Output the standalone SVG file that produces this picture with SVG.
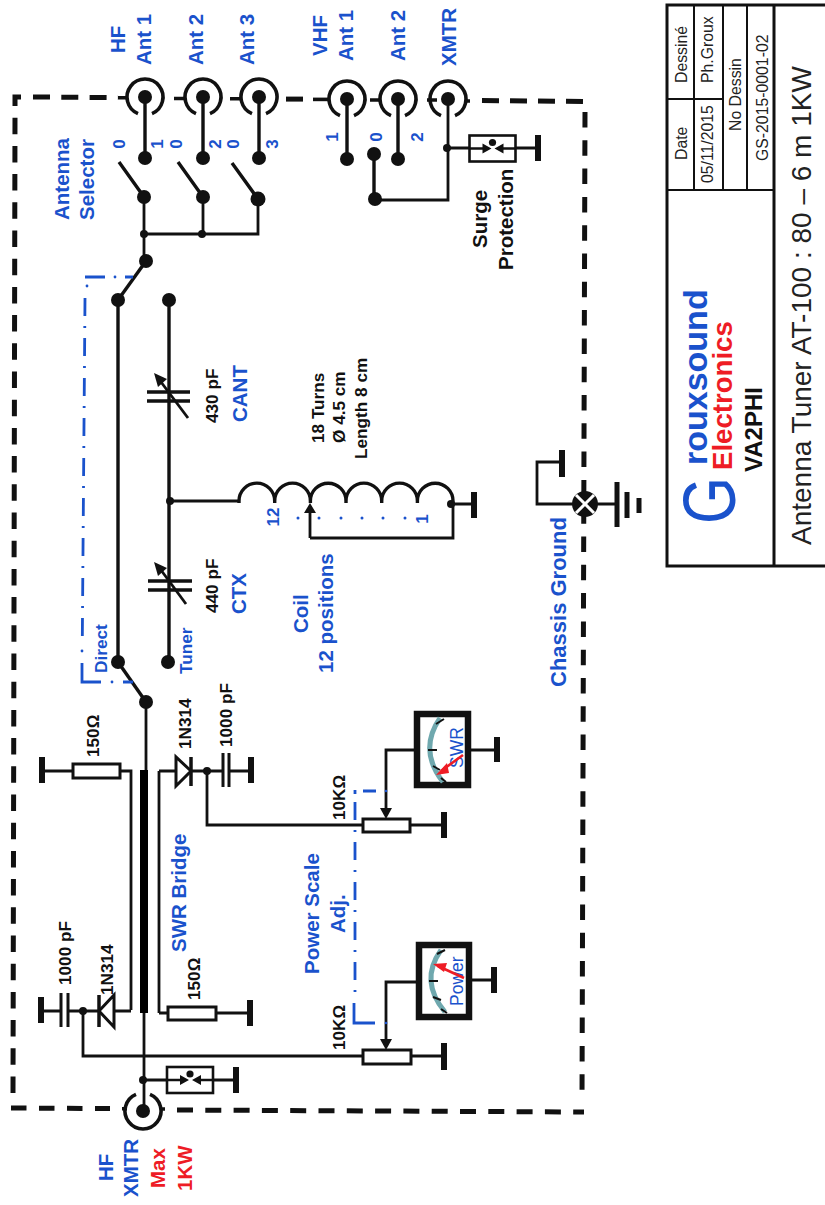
<svg xmlns="http://www.w3.org/2000/svg" width="825" height="1205" viewBox="0 0 825 1205">
<style>
text{font-family:"Liberation Sans",Arial,sans-serif}
.b{font-weight:700}
.bl{fill:#1a52cc}
.rd{fill:#ee1c25}
.k{fill:#111}
.f20{font-size:20.5px}
.f17{font-size:17.2px}
.w{fill:none;stroke:#111;stroke-width:2.8}
.t{fill:none;stroke:#111;stroke-width:3.4}
.g{fill:none;stroke:#111;stroke-width:6}
.d{fill:#111}
.r{fill:#fff;stroke:#111;stroke-width:3}
.box{fill:none;stroke:#111;stroke-width:5}
.stub{fill:none;stroke:#111;stroke-width:3.6}
.ctl{fill:none;stroke:#1a52cc;stroke-width:2.8}
.cell{fill:none;stroke:#111;stroke-width:2}
.cellh{fill:none;stroke:#111;stroke-width:3}
</style>
<defs>
<path id="conn" d="M-7 16.6A18 18 0 1 1 7 16.6" fill="none" stroke="#111" stroke-width="3.6"/>
<g id="surge">
<rect x="-23" y="-13" width="46" height="26" fill="#fff" stroke="#111" stroke-width="2.6"/>
<path d="M-23 0H-6M23 0H6" stroke="#111" stroke-width="2.6"/>
<path d="M-1 0L-10-5V5ZM2 0L11-5V5Z" fill="#111"/>
<circle cx="0" cy="-6" r="3.6" fill="#111"/>
</g>
</defs>

<g id="chassis-box">
<path class="box" d="M13 1093L15 115" stroke-dasharray="16.5 11.7"/>
<path class="box" d="M21 97H15V106"/>
<path class="box" d="M33 97L118 97.6" stroke-dasharray="17 11.3"/>
<path class="stub" d="M118 97.700H127M174 98.500H186M230 98.800H241M370 100H380M427 100H437M465 101H470"/>
<path class="box" d="M286 99.100H303"/><path class="stub" d="M313 99.400H328"/>
<path class="box" d="M482 100.500L585 101.500" stroke-dasharray="17 11"/>
<path class="box" d="M585 112L582 1100" stroke-dasharray="15.500 12.800"/>
<path class="box" d="M11 1108L110 1108.600" stroke-dasharray="15.500 12.500"/>
<path class="stub" d="M122 1108.700H127M161 1109H165"/>
<path class="box" d="M177 1110L584 1112" stroke-dasharray="16 12.300"/>
</g>

<g id="connectors">
<path class="t" d="M145 97V158M203 97V158M259 97V158"/>
<path class="t" d="M347 97V159M398 97V159"/>
<path class="t" d="M144 197L119 162M203 197L178 162M258 199L232 163"/>
<path class="w" d="M144 197V260M203 197V234M258 199V234H144"/>
<path class="t" d="M146 261L118 300"/>
<path class="t" d="M118 300V662M169 300V662"/>
<path class="t" d="M118 662L146 702"/>
<path class="w" d="M146 702V770"/>
<path d="M144 770V1013" fill="none" stroke="#000" stroke-width="8"/>
<path class="w" d="M144 1013V1111"/>
<path class="t" d="M374 154V199" stroke-width="4.5"/>
<path class="w" d="M375 200H448V99"/>
<path class="w" d="M170 501H239"/>
<path class="w" d="M310 538V510M310 538H453V504M453 504H474"/>
<path class="w" d="M562 462H537V504H585M585 504H617"/>
<path class="w" d="M42 771H131V1010M159 771V1013M159 771H176M192 771H223M229 771H251"/>
<path class="w" d="M207 771V825H363M410 825H444"/>
<path class="w" d="M386 810V750H414M471 750H497"/>
<path class="w" d="M41 1011H61M68 1011H99M114 1011H131"/>
<path class="w" d="M83 1011V1056H363M411 1056H444"/>
<path class="w" d="M159 1013H168M216 1013H250"/>
<path class="w" d="M386 1040V982H416M472 980H494"/>
<path class="w" d="M144 1080H236M448 148H538"/>
<circle class="d" cx="144" cy="234" r="4"/><circle class="d" cx="202" cy="234" r="4"/>
<circle class="d" cx="170" cy="501" r="4"/><circle class="d" cx="451" cy="504" r="4"/>
<circle class="d" cx="207" cy="771" r="4"/><circle class="d" cx="83" cy="1011" r="4"/>
<circle class="d" cx="143" cy="1080" r="4"/><circle class="d" cx="447" cy="148" r="4"/>
<g class="d">
<circle cx="145" cy="158" r="7"/><circle cx="203" cy="158" r="7"/><circle cx="259" cy="158" r="7"/>
<circle cx="144" cy="197" r="7"/><circle cx="203" cy="197" r="7"/><circle cx="258" cy="199" r="7.500"/>
<circle cx="146" cy="261" r="7"/><circle cx="118" cy="300" r="7"/><circle cx="169" cy="300" r="7"/>
<circle cx="118" cy="662" r="7"/><circle cx="168" cy="662" r="7"/><circle cx="146" cy="702" r="7"/>
<circle cx="347" cy="159" r="7"/><circle cx="398" cy="159" r="7"/><circle cx="374" cy="154" r="7"/><circle cx="375" cy="199" r="7"/>
</g>
<g id="linkage" fill="#1a52cc">
<path class="ctl" d="M85 298L82.300 640" stroke-dasharray="18 10 2 10"/>
<path class="ctl" d="M85 277H105M125 277H133M82 663V682H101M123 682H133"/>
<circle cx="115" cy="277" r="1.400"/><circle cx="87" cy="286" r="1.400"/>
<circle cx="82" cy="651" r="1.400"/><circle cx="112" cy="682" r="1.400"/>
<path class="ctl" d="M355 802V992" stroke-dasharray="18 10 2 10"/>
<path class="ctl" d="M355 790V794M363 791H376"/>
<path class="ctl" d="M354 1003V1023H375"/>
<circle cx="386" cy="791" r="1.300"/><circle cx="386" cy="1023" r="1.300"/>
</g>
</g>

<g id="ant-hf1"><use href="#conn" x="145" y="97"/><circle class="d" cx="145" cy="97" r="7"/>
<text class="b bl f20" transform="translate(125 53) rotate(-90)">HF</text>
<text class="b bl f20" transform="translate(151 65) rotate(-90)">Ant 1</text></g>
<g id="ant-hf2"><use href="#conn" x="203" y="97"/><circle class="d" cx="203" cy="97" r="7"/>
<text class="b bl f20" transform="translate(203 65) rotate(-90)">Ant 2</text></g>
<g id="ant-hf3"><use href="#conn" x="259" y="97"/><circle class="d" cx="259" cy="97" r="7"/>
<text class="b bl f20" transform="translate(254 65) rotate(-90)">Ant 3</text></g>
<g id="ant-vhf1"><use href="#conn" x="347" y="99"/><circle class="d" cx="347" cy="99" r="7"/>
<text class="b bl f20" transform="translate(327 56) rotate(-90)">VHF</text>
<text class="b bl f20" transform="translate(353 61) rotate(-90)">Ant 1</text></g>
<g id="ant-vhf2"><use href="#conn" x="398" y="99"/><circle class="d" cx="398" cy="99" r="7"/>
<text class="b bl f20" transform="translate(405 61) rotate(-90)">Ant 2</text></g>
<g id="xmtr-vhf"><use href="#conn" x="448" y="99"/><circle class="d" cx="448" cy="99" r="7"/>
<text class="b bl f20" transform="translate(456 66) rotate(-90)">XMTR</text></g>
<g id="xmtr-hf"><use href="#conn" transform="translate(143 1111) rotate(180)"/><circle class="d" cx="143" cy="1111" r="7"/>
<text class="b bl f20" transform="translate(113 1181) rotate(-90)">HF</text>
<text class="b bl f20" transform="translate(138 1197) rotate(-90)">XMTR</text>
<text class="b rd f20" transform="translate(165 1188) rotate(-90)">Max</text>
<text class="b rd f20" transform="translate(192 1191) rotate(-90)">1KW</text></g>

<g id="antenna-selector">
<text class="b bl f20" transform="translate(69 220) rotate(-90)">Antenna</text>
<text class="b bl f20" transform="translate(94 220) rotate(-90)">Selector</text>
<g class="b bl" font-size="17" text-anchor="middle">
<text transform="translate(125 144) rotate(-90)">0</text>
<text transform="translate(163 144) rotate(-90)">1</text>
<text transform="translate(182 144) rotate(-90)">0</text>
<text transform="translate(221 144) rotate(-90)">2</text>
<text transform="translate(239 144) rotate(-90)">0</text>
<text transform="translate(278 144) rotate(-90)">3</text>
<text transform="translate(338 137) rotate(-90)">1</text>
<text transform="translate(382 137) rotate(-90)">0</text>
<text transform="translate(423 137) rotate(-90)">2</text>
</g>
</g>

<g id="surge-vhf"><use href="#surge" x="492.500" y="148.500"/><path class="g" d="M538 135V161"/>
<text class="b k f20" transform="translate(487 248) rotate(-90)">Surge</text>
<text class="b k f20" transform="translate(513 270) rotate(-90)">Protection</text></g>
<g id="surge-hf"><use href="#surge" x="190" y="1080"/><path class="g" d="M236 1067V1093"/></g>

<g id="cant">
<path class="t" d="M147 392H190M147 401H190" stroke-width="3"/>
<path class="w" d="M188 418L158 378"/><path class="d" d="M154 373L167 379L158 387Z"/>
<text class="b k f17" transform="translate(218 423) rotate(-90)">430 pF</text>
<text class="b bl f20" transform="translate(247 422) rotate(-90)">CANT</text>
</g>
<g id="ctx">
<path class="t" d="M148 581H192M148 590H192" stroke-width="3"/>
<path class="w" d="M186 604L158 566"/><path class="d" d="M154 562L167 568L158 576Z"/>
<text class="b k f17" transform="translate(218 613) rotate(-90)">440 pF</text>
<text class="b bl f20" transform="translate(246 614) rotate(-90)">CTX</text>
<text class="b bl f17" transform="translate(192 674) rotate(-90)">Tuner</text>
<text class="b bl f17" transform="translate(107 673) rotate(-90)">Direct</text>
</g>

<g id="coil">
<path d="M239 503V501A17.800 17.800 0 0 1 274.700 501V503M274.700 501A17.800 17.800 0 0 1 310.400 501V503M310.400 501A17.800 17.800 0 0 1 346 501V503M346 501A17.800 17.800 0 0 1 381.700 501V503M381.700 501A17.800 17.800 0 0 1 417.400 501V503M417.400 501A17.800 17.800 0 0 1 453 501V503" fill="none" stroke="#111" stroke-width="3.400"/>
<path class="d" d="M310 503L304 513H316Z"/>
<path class="g" d="M474 492V518"/>
<g class="b bl" font-size="17" text-anchor="middle">
<text transform="translate(279 517) rotate(-90)">12</text>
<text transform="translate(428 519) rotate(-90)">1</text>
</g>
<g fill="#1a52cc"><circle cx="298" cy="518" r="1.500"/><circle cx="319" cy="518" r="1.500"/><circle cx="341" cy="518" r="1.500"/><circle cx="362" cy="518" r="1.500"/><circle cx="383" cy="518" r="1.500"/><circle cx="405" cy="518" r="1.500"/></g>
<text class="b k f17" transform="translate(324 443) rotate(-90)">18 Turns</text>
<text class="b k f17" transform="translate(345 443) rotate(-90)">Ø 4.5 cm</text>
<text class="b k f17" transform="translate(367 459) rotate(-90)">Length 8 cm</text>
<text class="b bl f20" transform="translate(308 633) rotate(-90)">Coil</text>
<text class="b bl f20" transform="translate(333 673) rotate(-90)">12 positions</text>
</g>

<g id="chassis-ground">
<path class="g" d="M562 450V477"/>
<circle class="d" cx="585" cy="504" r="13"/>
<path d="M576 495L594 513M594 495L576 513" stroke="#fff" stroke-width="3" fill="none"/>
<path d="M617 482V527M627 492V518M639 498V513" stroke="#111" stroke-width="5" fill="none"/>
<text class="b bl" font-size="22" transform="translate(566 687) rotate(-90)">Chassis Ground</text>
</g>

<g id="swr-bridge">
<text class="b bl f20" transform="translate(186 952) rotate(-90)">SWR Bridge</text>
</g>
<g id="r-top"><rect class="r" x="73" y="764" width="47" height="14"/><path class="g" d="M42 757V783"/>
<text class="b k f17" transform="translate(99 757) rotate(-90)">150Ω</text></g>
<g id="d-top"><path d="M176 757V786L191 771Z" fill="#fff" stroke="#111" stroke-width="3"/><path d="M191 757V786" stroke="#111" stroke-width="3.500"/>
<text class="b k f17" transform="translate(191 749) rotate(-90)">1N314</text></g>
<g id="c-top"><path d="M223 753V787M229 753V787" stroke="#111" stroke-width="3"/><path class="g" d="M251 757V783"/>
<text class="b k f17" transform="translate(232 747) rotate(-90)">1000 pF</text></g>
<g id="r-bot"><rect class="r" x="168" y="1007" width="48" height="13"/><path class="g" d="M250 1000V1026"/>
<text class="b k f17" transform="translate(200 1000) rotate(-90)">150Ω</text></g>
<g id="d-bot"><path d="M114 995V1027L99 1011Z" fill="#fff" stroke="#111" stroke-width="3"/><path d="M99 995V1027" stroke="#111" stroke-width="3.500"/>
<text class="b k f17" transform="translate(113 995) rotate(-90)">1N314</text></g>
<g id="c-bot"><path d="M61 993V1027M68 993V1027" stroke="#111" stroke-width="3"/><path class="g" d="M41 997V1023"/>
<text class="b k f17" transform="translate(71 985) rotate(-90)">1000 pF</text></g>

<g id="pot-swr"><rect class="r" x="363" y="819" width="47" height="13"/><path class="g" d="M444 812V838"/><path class="d" d="M386 819L380 808H392Z"/>
<text class="b k f17" transform="translate(345 820) rotate(-90)">10KΩ</text></g>
<g id="pot-pwr"><rect class="r" x="363" y="1050" width="48" height="14"/><path class="g" d="M444 1043V1070"/><path class="d" d="M386 1050L380 1039H392Z"/>
<text class="b k f17" transform="translate(345 1050) rotate(-90)">10KΩ</text></g>
<text class="b bl f20" transform="translate(319 974) rotate(-90)">Power Scale</text>
<text class="b bl f20" transform="translate(345 933) rotate(-90)">Adj.</text>

<g id="meter-swr">
<rect x="417" y="714" width="51" height="71" fill="#fff" stroke="#111" stroke-width="6.500"/>
<path d="M440 718Q418 750 443 782" fill="none" stroke="#6fa8ae" stroke-width="5"/>
<path d="M436 724L444 719M428 750H437M433 766L440 770M441 778L446 782" stroke="#111" stroke-width="2" fill="none"/>
<text class="bl" font-size="17.500" transform="translate(463 768) rotate(-90)">SWR</text>
<path d="M463 755L441 771" stroke="#ee1c25" stroke-width="2.600"/><path d="M436 775L447 763L449 773Z" fill="#ee1c25"/>
<path class="g" d="M497 737V762"/>
</g>
<g id="meter-pwr">
<rect x="419" y="945" width="50" height="72" fill="#fff" stroke="#111" stroke-width="6.500"/>
<path d="M441 950Q419 981 445 1012" fill="none" stroke="#6fa8ae" stroke-width="5"/>
<path d="M437 954L445 950M429 981H438M433 997L441 1000M441 1009L447 1013" stroke="#111" stroke-width="2" fill="none"/>
<text class="bl" font-size="17.500" transform="translate(463 1006) rotate(-90)">Power</text>
<path d="M464 978L438 966" stroke="#ee1c25" stroke-width="2.600"/><path d="M433 964L447 963L444 972Z" fill="#ee1c25"/>
<path class="g" d="M494 967V993"/>
</g>

<g id="title-block">
<path class="cellh" d="M825 5H667V566H825"/>
<path class="cellh" d="M774 5V566"/>
<path class="cell" d="M667 190H774M694 5V190M723 5V190M747 5V190M667 99H723"/>
<g font-size="15.800" fill="#222">
<text transform="translate(687 83) rotate(-90)">Dessiné</text>
<text transform="translate(687 160) rotate(-90)">Date</text>
<text transform="translate(713 83) rotate(-90)">Ph.Groux</text>
<text transform="translate(713 183) rotate(-90)">05/11/2015</text>
<text transform="translate(741 131) rotate(-90)">No Dessin</text>
<text transform="translate(768 161) rotate(-90)">GS-2015-0001-02</text>
</g>
<text font-size="28" fill="#222" transform="translate(811 545) rotate(-90)">Antenna Tuner AT-100 : 80 – 6 m 1KW</text>
<text class="bl" font-size="74" textLength="47" lengthAdjust="spacingAndGlyphs" transform="translate(735 524) rotate(-90)">G</text>
<text class="b bl" font-size="34" transform="translate(707 465) rotate(-90)">rouxsound</text>
<text class="b rd" font-size="27.600" transform="translate(732 470) rotate(-90)">Electronics</text>
<text class="b k" font-size="24" transform="translate(762 472) rotate(-90)">VA2PHI</text>
</g>
</svg>
